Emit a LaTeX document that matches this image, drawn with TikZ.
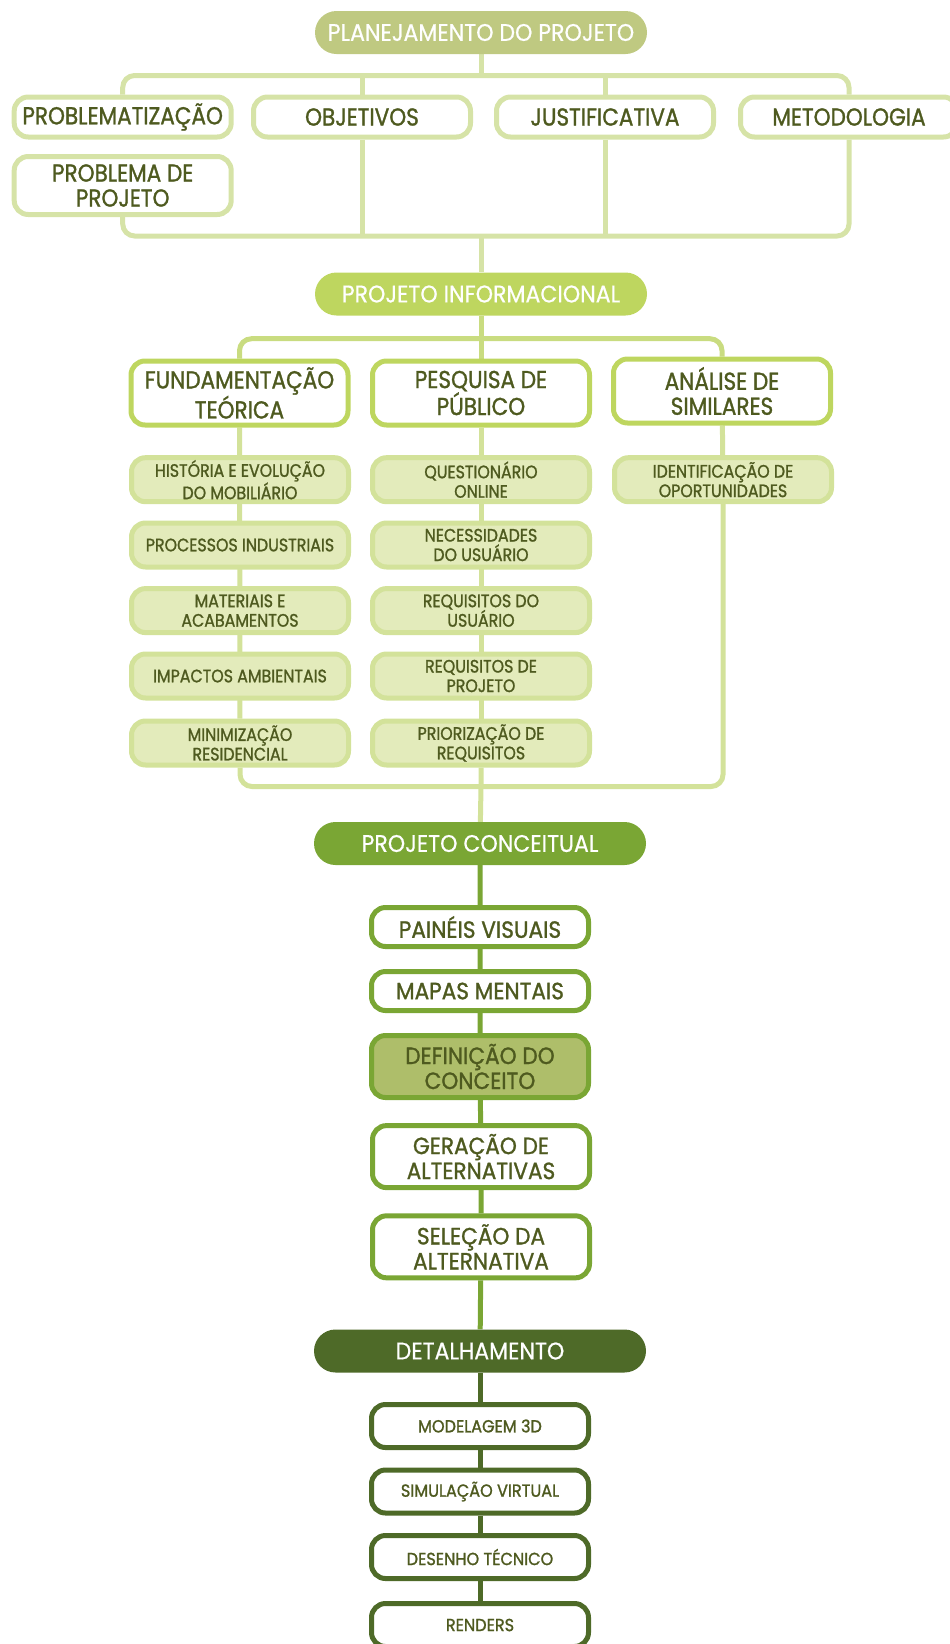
\documentclass[tikz,border=0pt]{standalone}
\usepackage{fontspec}
\setmainfont{Poppins}
\newfontfamily\pillfont[FakeStretch=0.92, FakeBold=0.6]{Poppins}
\newfontfamily\condfont[FakeStretch=0.88, FakeBold=1.2]{Poppins}
\newfontfamily\widefont[FakeStretch=0.92, FakeBold=1.2]{Poppins}
\usetikzlibrary{positioning,backgrounds}

\definecolor{txtcol}{HTML}{4E5A1F}
\definecolor{plancol}{HTML}{BFC981}
\definecolor{planline}{HTML}{D6E3A7}
\definecolor{infcol}{HTML}{BED65F}
\definecolor{infline}{HTML}{C9DC80}
\definecolor{subfill}{HTML}{E3EBBB}
\definecolor{subline}{HTML}{D3E29A}
\definecolor{conccol}{HTML}{7AA634}
\definecolor{defcol}{HTML}{AEBE6A}
\definecolor{detcol}{HTML}{4E6A28}

\tikzset{
    pill/.style={rounded corners=21.5, minimum width=332, minimum height=43,
        inner sep=0, text=white, font=\pillfont\fontsize{24}{26}\selectfont},
    box/.style={rounded corners=14, line width=5, fill=white, inner sep=0,
        minimum width=217, align=center, text=txtcol},
    planbox/.style={box, draw=planline, minimum height=40,
        font=\condfont\fontsize{24.5}{25}\selectfont},
    infbox/.style={box, draw=infcol, minimum height=64,
        font=\condfont\fontsize{24.5}{25}\selectfont},
    subbox/.style={box, draw=subline, fill=subfill, minimum height=44,
        font=\condfont\fontsize{18}{19.5}\selectfont},
    concbox/.style={box, draw=conccol, minimum height=39,
        font=\widefont\fontsize{23.5}{25}\selectfont},
    detbox/.style={box, draw=detcol, minimum height=43,
        font=\widefont\fontsize{17.5}{19}\selectfont},
    wire/.style={line width=5},
}

\begin{document}
\begin{tikzpicture}[x=1pt, y=-1pt]
    \useasboundingbox (0,0) rectangle (950,1644);

    % planejamento
    \node[pill, fill=plancol] (plan) at (481,32.5) {PLANEJAMENTO DO PROJETO};
    \node[planbox] (probl) at (122.7,117) {PROBLEMATIZAÇÃO};
    \node[planbox] (obj) at (362,117) {OBJETIVOS};
    \node[planbox] (just) at (605,117) {JUSTIFICATIVA};
    \node[planbox] (metod) at (849,117) {METODOLOGIA};
    \node[planbox, minimum height=58] (probproj) at (122.7,185.5) {PROBLEMA DE\\PROJETO};
    \coordinate (plantop) at (481,75.5);
    \coordinate (planbot) at (481,236);

    % informacional
    \node[pill, fill=infcol] (inf) at (481,294) {PROJETO INFORMACIONAL};
    \node[infbox] (fund) at (239.5,393) {FUNDAMENTAÇÃO\\TEÓRICA};
    \node[infbox] (pesq) at (481,393) {PESQUISA DE\\PÚBLICO};
    \node[infbox] (anal) at (722,391) {ANÁLISE DE\\SIMILARES};
    \node[subbox] (hist) at (240,479.7) {HISTÓRIA E EVOLUÇÃO\\DO MOBILIÁRIO};
    \node[subbox] (proc) at (240,545) {PROCESSOS INDUSTRIAIS};
    \node[subbox] (mat) at (240,610.6) {MATERIAIS E\\ACABAMENTOS};
    \node[subbox] (imp) at (240,676) {IMPACTOS AMBIENTAIS};
    \node[subbox] (minim) at (240,743) {MINIMIZAÇÃO\\RESIDENCIAL};
    \node[subbox] (quest) at (481,479.7) {QUESTIONÁRIO\\ONLINE};
    \node[subbox] (neces) at (481,545) {NECESSIDADES\\DO USUÁRIO};
    \node[subbox] (requs) at (481,610.6) {REQUISITOS DO\\USUÁRIO};
    \node[subbox] (reqproj) at (481,676) {REQUISITOS DE\\PROJETO};
    \node[subbox] (prior) at (481,743) {PRIORIZAÇÃO DE\\REQUISITOS};
    \node[subbox] (ident) at (723,479.7) {IDENTIFICAÇÃO DE\\OPORTUNIDADES};
    \coordinate (inftop) at (481,338.7);
    \coordinate (infbot) at (481,786.5);

    % conceitual
    \node[pill, fill=conccol] (conc) at (480,843.5) {PROJETO CONCEITUAL};
    \node[concbox] (pain) at (480,927) {PAINÉIS VISUAIS};
    \node[concbox] (mapas) at (480,991) {MAPAS MENTAIS};
    \node[concbox, fill=defcol, minimum height=62] (defin) at (480,1066.5) {DEFINIÇÃO DO\\CONCEITO};
    \node[concbox, minimum height=62] (ger) at (481,1156.6) {GERAÇÃO DE\\ALTERNATIVAS};
    \node[concbox, minimum height=62] (sel) at (481,1246.8) {SELEÇÃO DA\\ALTERNATIVA};

    % detalhamento
    \node[pill, fill=detcol] (detal) at (480,1351) {DETALHAMENTO};
    \node[detbox] (model) at (480,1426) {MODELAGEM 3D};
    \node[detbox] (simul) at (480,1491.5) {SIMULAÇÃO VIRTUAL};
    \node[detbox] (desen) at (480,1557) {DESENHO TÉCNICO};
    \node[detbox] (rend) at (480,1625) {RENDERS};

    \begin{scope}[on background layer]
        \draw[wire, planline] (plan) -- (plantop);
        \draw[wire, planline, rounded corners=12] (probl) |- (plantop) -| (metod);
        \draw[wire, planline] (obj) -- (obj |- plantop);
        \draw[wire, planline] (just) -- (just |- plantop);
        \draw[wire, planline, rounded corners=12] (probproj) |- (planbot) -| (metod);
        \draw[wire, planline] (obj) -- (obj |- planbot);
        \draw[wire, planline] (just) -- (just |- planbot);
        \draw[wire, planline] (planbot) -- (inf);

        \draw[wire, infline] (inf) -- (inftop);
        \draw[wire, infline, rounded corners=12] (fund) |- (inftop) -| (anal);
        \draw[wire, infline] (pesq) -- (inftop);
        \draw[wire, subline] (fund) -- (minim);
        \draw[wire, subline] (pesq) -- (prior);
        \draw[wire, subline] (anal) -- (ident);
        \draw[wire, subline, rounded corners=12] (minim) |- (infbot) -| (ident);
        \draw[wire, subline] (prior) -- (infbot) -- (conc);

        \draw[wire, conccol] (conc) -- (pain) -- (mapas) -- (defin) -- (ger) -- (sel) -- (detal);
        \draw[wire, detcol] (detal) -- (model) -- (simul) -- (desen) -- (rend);
    \end{scope}
\end{tikzpicture}
\end{document}
